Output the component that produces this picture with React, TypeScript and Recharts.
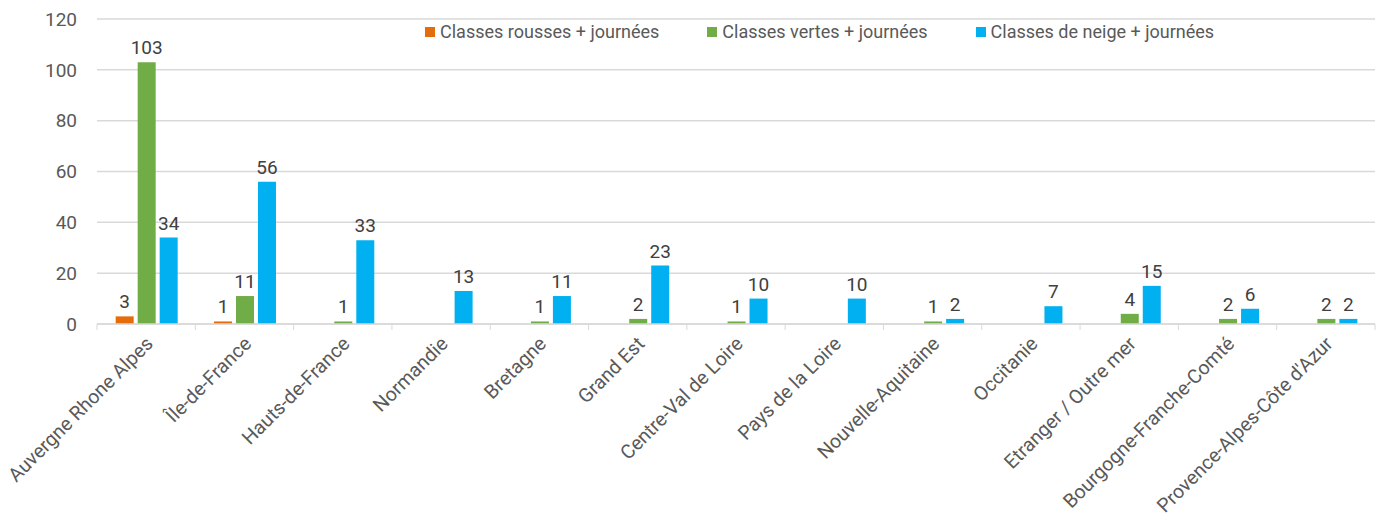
import React from 'react';
import {
  BarChart,
  Bar,
  XAxis,
  YAxis,
  CartesianGrid,
  Legend,
  LabelList,
} from 'recharts';

const regions = [
  'Auvergne Rhone Alpes',
  'Île-de-France',
  'Hauts-de-France',
  'Normandie',
  'Bretagne',
  'Grand Est',
  'Centre-Val de Loire',
  'Pays de la Loire',
  'Nouvelle-Aquitaine',
  'Occitanie',
  'Etranger / Outre mer',
  'Bourgogne-Franche-Comté',
  'Provence-Alpes-Côte d\'Azur',
];
const rousses = [3, 1, 0, 0, 0, 0, 0, 0, 0, 0, 0, 0, 0];
const vertes = [103, 11, 1, 0, 1, 2, 1, 0, 1, 0, 4, 2, 2];
const neige = [34, 56, 33, 13, 11, 23, 10, 10, 2, 7, 15, 6, 2];
const yTicks = [0, 20, 40, 60, 80, 100, 120];

const seriesInfo = [
  { key: 'rousses', name: 'Classes rousses + journées', color: '#E46C0A' },
  { key: 'vertes', name: 'Classes vertes + journées', color: '#70AD47' },
  { key: 'neige', name: 'Classes de neige + journées', color: '#00B0F0' },
];

const data = regions.map((r, i) => ({
  region: r,
  rousses: rousses[i],
  vertes: vertes[i],
  neige: neige[i],
}));

const FONT = 'Roboto, "Noto Sans", sans-serif';
const W = 1381;
const H = 521;
const M = { top: 19, right: 6, left: 0, bottom: 0 };
const Y_W = 97;
const X_H = 197;
const band = (W - M.right - Y_W) / regions.length;

const CategoryTick = (props: any) => {
  const { x, y, payload, index } = props;
  return (
    <g>
      <line x1={x - band / 2} x2={x - band / 2} y1={y - 8} y2={y - 2} stroke="#d9d9d9" />
      {index === regions.length - 1 && (
        <line x1={x + band / 2} x2={x + band / 2} y1={y - 8} y2={y - 2} stroke="#d9d9d9" />
      )}
      <text
        transform={`translate(${x + 8},${y + 13}) rotate(-45)`}
        textAnchor="end"
        fontSize={19.5}
        fontFamily={FONT}
        fill="#595959"
      >
        {payload.value}
      </text>
    </g>
  );
};

const LegendContent = () => (
  <div style={{ display: 'flex', gap: 48, fontFamily: FONT, fontSize: 18, color: '#595959' }}>
    {seriesInfo.map((s) => (
      <div key={s.key} style={{ display: 'flex', alignItems: 'center' }}>
        <span style={{ width: 10, height: 10, background: s.color, marginRight: 5, display: 'inline-block' }} />
        <span>{s.name}</span>
      </div>
    ))}
  </div>
);

const hideZero = (v: any) => (v === 0 ? '' : v);

export default function App() {
  return (
    <div style={{ position: 'absolute', left: 0, top: 0, background: '#fff' }}>
      <BarChart
        width={W}
        height={H}
        data={data}
        margin={M}
        barCategoryGap="19%"
        barGap={4}
      >
        <CartesianGrid vertical={false} stroke="#d9d9d9" strokeWidth={1.5} />
        <XAxis
          dataKey="region"
          interval={0}
          height={X_H}
          axisLine={{ stroke: '#d9d9d9', strokeWidth: 1.5 }}
          tickLine={false}
          tick={<CategoryTick />}
        />
        <YAxis
          width={Y_W}
          domain={[0, 120]}
          ticks={yTicks}
          axisLine={false}
          tickLine={false}
          tickSize={0}
          tickMargin={20}
          tick={{ fill: '#595959', fontSize: 19, fontFamily: FONT }}
        />
        <Legend
          content={<LegendContent />}
          layout="horizontal"
          verticalAlign="middle"
          align="center"
          wrapperStyle={{ position: 'absolute', top: 21, left: 425, width: 'auto' }}
        />
        {seriesInfo.map((s) => (
          <Bar key={s.key} dataKey={s.key} name={s.name} fill={s.color} isAnimationActive={false}>
            <LabelList
              dataKey={s.key}
              position="top"
              offset={8}
              formatter={hideZero}
              fill="#404040"
              fontSize={19}
              fontFamily={FONT}
            />
          </Bar>
        ))}
      </BarChart>
    </div>
  );
}
